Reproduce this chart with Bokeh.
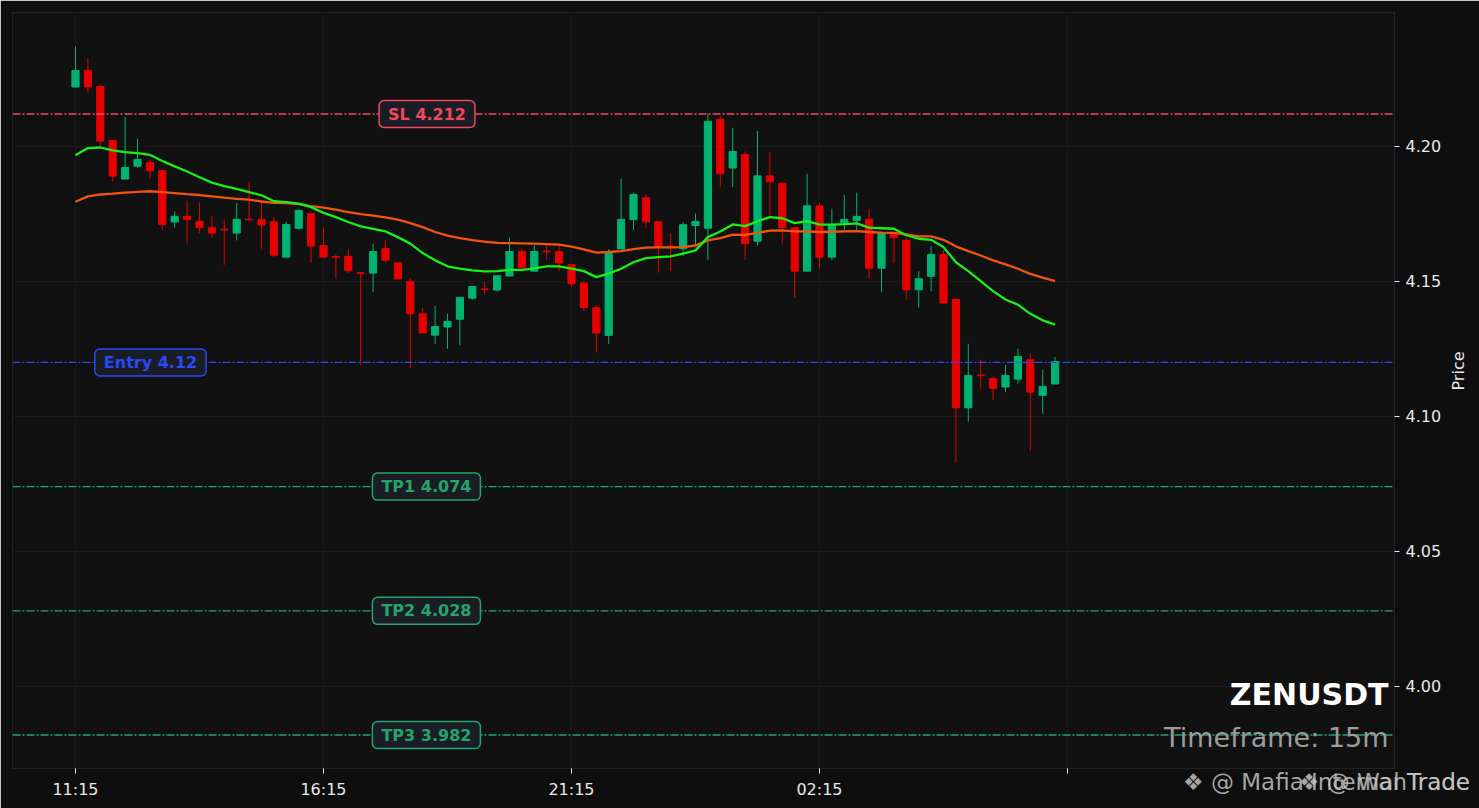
import math
from bokeh.plotting import figure
from bokeh.layouts import column
from bokeh.models import Span, Label, FixedTicker, Range1d, PrintfTickFormatter, Div
from bokeh.embed import file_html
from bokeh.resources import INLINE

# ---------------- data ----------------
opens = [4.2220, 4.2281, 4.2222, 4.2022, 4.1879, 4.1927, 4.1940, 4.1910, 4.1720, 4.1741,
         4.1722, 4.1699, 4.1693, 4.1679, 4.1730, 4.1729, 4.1721, 4.1590, 4.1697, 4.1751,
         4.1633, 4.1592, 4.1593, 4.1532, 4.1531, 4.1622, 4.1569, 4.1500, 4.1380, 4.1301,
         4.1331, 4.1360, 4.1438, 4.1472, 4.1468, 4.1520, 4.1611, 4.1538, 4.1612, 4.1611,
         4.1562, 4.1494, 4.1403, 4.1300, 4.1620, 4.1729, 4.1810, 4.1721, 4.1631, 4.1621,
         4.1707, 4.1697, 4.2100, 4.1920, 4.1970, 4.1649, 4.1891, 4.1862, 4.1699, 4.1538,
         4.1780, 4.1590, 4.1716, 4.1726, 4.1730, 4.1549, 4.1679, 4.1652, 4.1469, 4.1519,
         4.1600, 4.1433, 4.1032, 4.1153, 4.1140, 4.1109, 4.1138, 4.1210, 4.1078, 4.1120]
highs = [4.2370, 4.2328, 4.2230, 4.2022, 4.2109, 4.2029, 4.1951, 4.1912, 4.1760, 4.1799,
         4.1791, 4.1741, 4.1729, 4.1791, 4.1868, 4.1794, 4.1738, 4.1721, 4.1766, 4.1755,
         4.1699, 4.1599, 4.1621, 4.1533, 4.1640, 4.1652, 4.1569, 4.1510, 4.1403, 4.1409,
         4.1380, 4.1441, 4.1481, 4.1497, 4.1521, 4.1662, 4.1621, 4.1633, 4.1636, 4.1633,
         4.1562, 4.1500, 4.1411, 4.1620, 4.1880, 4.1829, 4.1822, 4.1721, 4.1679, 4.1720,
         4.1751, 4.2121, 4.2111, 4.2069, 4.1981, 4.2057, 4.1979, 4.1870, 4.1700, 4.1899,
         4.1791, 4.1769, 4.1821, 4.1829, 4.1769, 4.1680, 4.1680, 4.1662, 4.1538, 4.1631,
         4.1617, 4.1440, 4.1269, 4.1210, 4.1149, 4.1191, 4.1251, 4.1232, 4.1173, 4.1220]
lows = [4.2218, 4.2199, 4.2000, 4.1869, 4.1879, 4.1920, 4.1879, 4.1691, 4.1699, 4.1640,
        4.1680, 4.1662, 4.1562, 4.1652, 4.1727, 4.1621, 4.1590, 4.1590, 4.1691, 4.1569,
        4.1590, 4.1509, 4.1531, 4.1191, 4.1460, 4.1569, 4.1509, 4.1180, 4.1309, 4.1269,
        4.1251, 4.1263, 4.1432, 4.1451, 4.1462, 4.1520, 4.1551, 4.1538, 4.1580, 4.1538,
        4.1479, 4.1390, 4.1238, 4.1269, 4.1620, 4.1691, 4.1699, 4.1532, 4.1538, 4.1594,
        4.1633, 4.1580, 4.1849, 4.1849, 4.1580, 4.1633, 4.1738, 4.1640, 4.1440, 4.1538,
        4.1549, 4.1580, 4.1691, 4.1691, 4.1510, 4.1460, 4.1568, 4.1432, 4.1403, 4.1463,
        4.1420, 4.0831, 4.0981, 4.1103, 4.1062, 4.1090, 4.1121, 4.0872, 4.1010, 4.1120]
closes = [4.2281, 4.2220, 4.2020, 4.1890, 4.1922, 4.1952, 4.1910, 4.1710, 4.1741, 4.1729,
          4.1699, 4.1679, 4.1691, 4.1730, 4.1728, 4.1709, 4.1597, 4.1711, 4.1763, 4.1631,
          4.1590, 4.1590, 4.1540, 4.1530, 4.1611, 4.1579, 4.1509, 4.1380, 4.1309, 4.1333,
          4.1352, 4.1441, 4.1481, 4.1470, 4.1521, 4.1611, 4.1551, 4.1611, 4.1610, 4.1568,
          4.1491, 4.1403, 4.1309, 4.1607, 4.1730, 4.1822, 4.1721, 4.1630, 4.1629, 4.1710,
          4.1722, 4.2093, 4.1899, 4.1981, 4.1640, 4.1891, 4.1869, 4.1699, 4.1538, 4.1780,
          4.1590, 4.1707, 4.1730, 4.1741, 4.1549, 4.1679, 4.1662, 4.1469, 4.1510, 4.1600,
          4.1420, 4.1032, 4.1152, 4.1151, 4.1103, 4.1152, 4.1222, 4.1090, 4.1111, 4.1203]
ema_fast = [4.1967, 4.1994, 4.1996, 4.1985, 4.1979, 4.1975, 4.1969, 4.1946, 4.1926, 4.1907,
            4.1886, 4.1866, 4.1853, 4.1843, 4.1831, 4.1819, 4.1797, 4.1794, 4.1788, 4.1775,
            4.1754, 4.1738, 4.1720, 4.1704, 4.1695, 4.1685, 4.1664, 4.1640, 4.1605, 4.1578,
            4.1556, 4.1547, 4.1541, 4.1537, 4.1538, 4.1543, 4.1543, 4.1548, 4.1556, 4.1556,
            4.1547, 4.1538, 4.1516, 4.1529, 4.1547, 4.1571, 4.1586, 4.1590, 4.1593, 4.1603,
            4.1615, 4.1664, 4.1685, 4.1711, 4.1705, 4.1723, 4.1738, 4.1734, 4.1716, 4.1723,
            4.1710, 4.1710, 4.1712, 4.1715, 4.1699, 4.1697, 4.1695, 4.1671, 4.1658, 4.1654,
            4.1627, 4.1571, 4.1538, 4.1501, 4.1464, 4.1433, 4.1414, 4.1380, 4.1356, 4.1340]
ema_slow = [4.1795, 4.1815, 4.1822, 4.1825, 4.1829, 4.1832, 4.1834, 4.1831, 4.1827, 4.1823,
            4.1820, 4.1815, 4.1810, 4.1806, 4.1803, 4.1796, 4.1791, 4.1790, 4.1786, 4.1779,
            4.1773, 4.1766, 4.1757, 4.1749, 4.1744, 4.1737, 4.1729, 4.1716, 4.1701, 4.1683,
            4.1670, 4.1660, 4.1653, 4.1647, 4.1643, 4.1642, 4.1641, 4.1640, 4.1638, 4.1636,
            4.1629, 4.1619, 4.1607, 4.1609, 4.1612, 4.1620, 4.1625, 4.1626, 4.1626, 4.1627,
            4.1633, 4.1652, 4.1660, 4.1673, 4.1672, 4.1680, 4.1688, 4.1689, 4.1685, 4.1685,
            4.1683, 4.1684, 4.1685, 4.1686, 4.1683, 4.1681, 4.1680, 4.1674, 4.1667, 4.1667,
            4.1654, 4.1630, 4.1612, 4.1596, 4.1578, 4.1563, 4.1547, 4.1528, 4.1514, 4.1501]
time_tick_positions = [0, 20, 40, 60, 80]
time_tick_labels = ["11:15", "16:15", "21:15", "02:15", ""]
price_ticks = [4.00, 4.05, 4.10, 4.15, 4.20]
level_names = ["SL", "Entry", "TP1", "TP2", "TP3"]
level_values = [4.212, 4.12, 4.074, 4.028, 3.982]
symbol = "ZENUSDT"
timeframe = "15m"
watermarks = ["\u2756 @ Mafia Internal Trade", "\u2756 @ WanTrade"]

# ---------------- styling ----------------
GREEN = "#00b371"
RED = "#e60000"
level_colors = ["#f2475f", "#2b48f5", "#22a56c", "#22a56c", "#22a56c"]
level_label_x = [28.35, 6.05, 28.3, 28.3, 28.3]
TXT = "#e8e8e8"

idx = list(range(len(opens)))
colors = [GREEN if c >= o else RED for o, c in zip(opens, closes)]
tops = [max(o, c) for o, c in zip(opens, closes)]
bottoms = [min(o, c) for o, c in zip(opens, closes)]

p = figure(frame_width=1382, frame_height=756,
           x_range=Range1d(-5.08, 106.37), y_range=Range1d(3.9696, 4.2496),
           output_backend="svg", toolbar_location=None, y_axis_location="right",
           min_border_left=12, min_border_top=12, min_border_right=85, min_border_bottom=40,
           background_fill_color="#111111", border_fill_color="#0e0e0e",
           outline_line_color="#1f2329")

p.grid.grid_line_color = "#1a1a1a"
p.xaxis.ticker = FixedTicker(ticks=time_tick_positions)
p.xaxis.major_label_overrides = {t: l for t, l in zip(time_tick_positions, time_tick_labels)}
p.yaxis.ticker = FixedTicker(ticks=price_ticks)
p.yaxis.formatter = PrintfTickFormatter(format="%.2f")
p.yaxis.axis_label = "Price"
for ax in (p.xaxis, p.yaxis):
    ax.axis_line_color = None
    ax.major_tick_line_color = TXT
    ax.major_tick_out = 5
    ax.major_tick_in = 0
    ax.minor_tick_line_color = None
    ax.major_label_text_color = TXT
    ax.major_label_text_font = "DejaVu Sans"
    ax.major_label_text_font_size = "16px"
    ax.major_label_standoff = 6
p.yaxis.axis_label_text_color = TXT
p.yaxis.axis_label_text_font = "DejaVu Sans"
p.yaxis.axis_label_text_font_size = "16px"
p.yaxis.axis_label_text_font_style = "normal"
p.yaxis.axis_label_orientation = math.pi / 2
p.yaxis.axis_label_standoff = 14

# level lines
for val, col in zip(level_values, level_colors):
    p.add_layout(Span(location=val, dimension="width", line_color=col,
                      line_width=1.3, line_dash="8 2 2 2"))

# candles
p.segment(x0=idx, y0=lows, x1=idx, y1=highs, line_color=colors, line_width=1)
p.vbar(x=idx, width=0.58, top=tops, bottom=bottoms, fill_color=colors, line_color=colors)

# EMA lines
p.line(idx, ema_slow, line_color="#f25410", line_width=2.3)
p.line(idx, ema_fast, line_color="#18f018", line_width=2.3)

# level labels
for name, val, col, lx in zip(level_names, level_values, level_colors, level_label_x):
    p.add_layout(Label(x=lx, y=val, text=f"{name} {val:g}", text_align="center",
                       text_baseline="middle", text_font="DejaVu Sans",
                       text_font_size="16px", text_font_style="bold", text_color=col,
                       background_fill_color="#1a1d24", background_fill_alpha=1.0,
                       border_line_color=col, border_line_width=1.5,
                       padding=dict(left=9, right=9, top=4, bottom=4), border_radius=5))

p.add_layout(Label(x=105.89, y=3.9970, text=symbol, text_align="right",
                   text_baseline="middle", text_font="DejaVu Sans", text_font_size="30px",
                   text_font_style="bold", text_color="#ffffff"))
p.add_layout(Label(x=105.89, y=3.9811, text=f"Timeframe: {timeframe}", text_align="right",
                   text_baseline="middle", text_font="DejaVu Sans", text_font_size="27px",
                   text_color="#9c9c9c"))

# watermark (outside the plot frame) as an overlaid Div
wm_html = "".join(
    f'<div style="position:absolute;right:9px;top:1px;white-space:nowrap;'
    f'font-family:\'DejaVu Sans\';font-size:23px;line-height:26px;'
    f'color:rgba(200,200,200,0.82);">{w}</div>' for w in watermarks)
div = Div(text=f'<div style="position:relative;width:1479px;height:40px;">{wm_html}</div>',
          width=1479, height=40, margin=(-40, 0, 0, 0),
          styles={"position": "relative", "z-index": "10"})

layout = column(p, div, spacing=0)
open("out.html", "w").write(file_html(layout, INLINE))
